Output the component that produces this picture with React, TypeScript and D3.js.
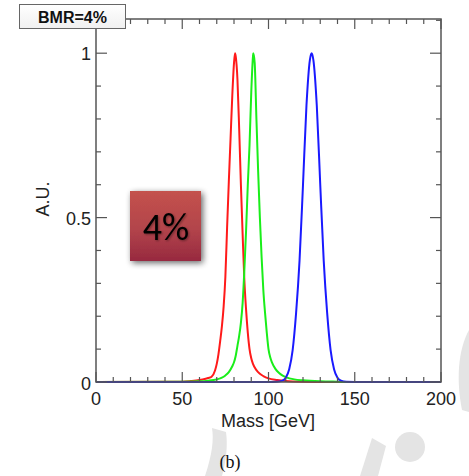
import React from "react";
import * as d3 from "d3";

const xTickLabels = [0, 50, 100, 150, 200];
const yTickLabels = [0, 0.5, 1];

const redMass = [0, 40, 50, 55, 60, 63, 65, 67, 69, 70, 71, 72, 73, 74, 75, 76, 77, 78, 79, 80, 80.6, 81, 82, 83, 84, 85, 86, 87, 88, 89, 90, 91, 93, 95, 97, 100, 105, 110, 120, 140, 200];
const redVal = [0, 0.0005, 0.001, 0.003, 0.006, 0.009, 0.012, 0.016, 0.035, 0.055, 0.085, 0.125, 0.17, 0.23, 0.32, 0.47, 0.61, 0.74, 0.87, 0.97, 1, 0.99, 0.92, 0.77, 0.6, 0.45, 0.31, 0.22, 0.15, 0.1, 0.072, 0.055, 0.036, 0.025, 0.018, 0.011, 0.006, 0.003, 0.001, 0, 0];

const greenMass = [0, 50, 60, 65, 70, 73, 75, 77, 79, 80, 81, 82, 83, 84, 85, 86, 87, 88, 89, 90, 91, 91.2, 92, 93, 94, 95, 96, 97, 98, 99, 100, 101, 102, 104, 106, 108, 110, 115, 120, 130, 140, 160, 200];
const greenVal = [0, 0.001, 0.002, 0.004, 0.008, 0.013, 0.02, 0.03, 0.048, 0.06, 0.08, 0.11, 0.14, 0.18, 0.24, 0.34, 0.46, 0.6, 0.72, 0.88, 0.99, 1, 0.97, 0.8, 0.64, 0.5, 0.38, 0.28, 0.21, 0.15, 0.1, 0.075, 0.06, 0.04, 0.028, 0.02, 0.015, 0.008, 0.005, 0.002, 0.001, 0, 0];

const blueMass = [0, 100, 105, 108, 110, 112, 114, 116, 118, 120, 122, 124, 125, 126, 128, 130, 132, 134, 136, 138, 140, 142, 145, 150, 200];
const blueVal = [0, 0, 0.0005, 0.004, 0.013, 0.039, 0.097, 0.21, 0.37, 0.6, 0.84, 0.98, 1, 0.98, 0.84, 0.6, 0.37, 0.21, 0.097, 0.039, 0.013, 0.004, 0.0005, 0, 0];

const series = [
  { name: "W", mass: redMass, val: redVal, color: "#ff1a1a" },
  { name: "Z", mass: greenMass, val: greenVal, color: "#1aee1a" },
  { name: "H", mass: blueMass, val: blueVal, color: "#1a1aff" },
];

const W = 469, H = 476;
const L = 96, R = 441, T = 19, B = 382;

export default function App() {
  const x = d3.scaleLinear().domain([0, 200]).range([L, R]);
  const y = d3.scaleLinear().domain([0, 1.104]).range([B, T]);
  const line = d3
    .line<[number, number]>()
    .x((d) => x(d[0]))
    .y((d) => y(d[1]))
    .curve(d3.curveMonotoneX);

  const xMinor = d3.range(0, 201, 10);
  const yMinor = d3.range(0, 1.101, 0.1);
  const axisColor = "#555";
  const font = "'Liberation Sans', Arial, Helvetica, sans-serif";

  return (
    <svg width={W} height={H} style={{ position: "absolute", left: 0, top: 0 }} xmlns="http://www.w3.org/2000/svg">
      <defs>
        <linearGradient id="boxGrad" x1="0" y1="0" x2="0" y2="1">
          <stop offset="0%" stopColor="#c4524d" />
          <stop offset="55%" stopColor="#b2444b" />
          <stop offset="100%" stopColor="#97293f" />
        </linearGradient>
        <linearGradient id="bmrGrad" x1="0" y1="0" x2="0" y2="1">
          <stop offset="0%" stopColor="#ffffff" />
          <stop offset="100%" stopColor="#f0f0f0" />
        </linearGradient>
        <filter id="shadow" x="-30%" y="-30%" width="160%" height="160%">
          <feGaussianBlur in="SourceAlpha" stdDeviation="3" />
          <feOffset dx="2" dy="2" result="ob" />
          <feComponentTransfer>
            <feFuncA type="linear" slope="0.6" />
          </feComponentTransfer>
          <feMerge>
            <feMergeNode />
            <feMergeNode in="SourceGraphic" />
          </feMerge>
        </filter>
        <filter id="tshadow" x="-20%" y="-20%" width="140%" height="140%">
          <feGaussianBlur in="SourceAlpha" stdDeviation="1" />
          <feOffset dx="1" dy="1" />
          <feComponentTransfer>
            <feFuncA type="linear" slope="0.4" />
          </feComponentTransfer>
          <feMerge>
            <feMergeNode />
            <feMergeNode in="SourceGraphic" />
          </feMerge>
        </filter>
      </defs>
      <rect x={0} y={0} width={W} height={H} fill="#fff" />

      {/* watermark shapes */}
      <g fill="#e4e4e4" stroke="none">
        <circle cx={410} cy={447} r={15} />
        <path d="M205,476 C212,455 214,440 212,428 L226,432 C228,446 226,462 222,476 Z" />
        <path d="M360,476 L372,438 L386,446 L378,476 Z" />
        <path d="M469,330 C458,350 456,380 462,410 L469,412 Z" />
      </g>

      {/* curves */}
      {series.map((s) => (
        <path
          key={s.name}
          d={line(s.mass.map((m, i) => [m, s.val[i]] as [number, number])) || ""}
          fill="none"
          stroke={s.color}
          strokeWidth={2}
        />
      ))}

      {/* frame */}
      <rect x={L} y={T} width={R - L} height={B - T} fill="none" stroke={axisColor} strokeWidth={1.5} />

      {/* x ticks */}
      {xMinor.map((v) => {
        const major = v % 50 === 0;
        const len = major ? 10 : 5;
        return (
          <g key={"xt" + v} stroke={axisColor} strokeWidth={1.2}>
            <line x1={x(v)} x2={x(v)} y1={B} y2={B - len} />
            <line x1={x(v)} x2={x(v)} y1={T} y2={T + len} />
          </g>
        );
      })}
      {/* y ticks */}
      {yMinor.map((v, i) => {
        const major = i % 5 === 0;
        const len = major ? 11 : 5;
        return (
          <g key={"yt" + i} stroke={axisColor} strokeWidth={1.2}>
            <line x1={L} x2={L + len} y1={y(v)} y2={y(v)} />
            <line x1={R} x2={R - len} y1={y(v)} y2={y(v)} />
          </g>
        );
      })}

      {/* tick labels */}
      {xTickLabels.map((v) => (
        <text key={"xl" + v} x={x(v)} y={405} textAnchor="middle" fontFamily={font} fontSize={18} fill="#222">
          {v}
        </text>
      ))}
      {yTickLabels.map((v) => (
        <text
          key={"yl" + v}
          x={91}
          y={y(v) + (v === 0 ? 8 : 7)}
          textAnchor="end"
          fontFamily={font}
          fontSize={18}
          fill="#222"
        >
          {v}
        </text>
      ))}

      <text x={268} y={427} textAnchor="middle" fontFamily={font} fontSize={18} fill="#222">
        Mass [GeV]
      </text>
      <text
        transform="translate(49,199) rotate(-90)"
        textAnchor="middle"
        fontFamily={font}
        fontSize={18}
        fill="#222"
      >
        A.U.
      </text>

      {/* BMR label box */}
      <rect x={19.5} y={4.5} width={106} height={24} fill="url(#bmrGrad)" stroke="#666" strokeWidth={1} />
      <text x={72.5} y={22.5} textAnchor="middle" fontFamily={font} fontSize={16} fontWeight="bold" fill="#111">
        BMR=4%
      </text>

      {/* 4% box */}
      <rect x={130} y={191} width={71} height={70} fill="url(#boxGrad)" filter="url(#shadow)" />
      <text
        x={166}
        y={240}
        textAnchor="middle"
        fontFamily="Carlito, 'Liberation Sans', Arial, sans-serif"
        fontSize={38}
        fill="#000"
        filter="url(#tshadow)"
      >
        4%
      </text>

      <text x={230} y={468} textAnchor="middle" fontFamily="'Liberation Serif', 'Times New Roman', serif" fontSize={18} fill="#111">
        (b)
      </text>
    </svg>
  );
}
